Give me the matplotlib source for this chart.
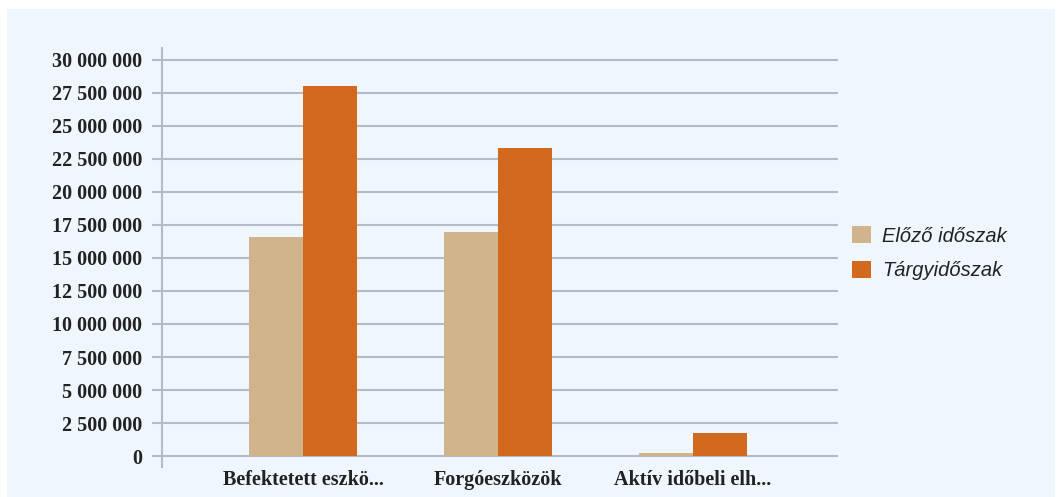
import matplotlib
matplotlib.use('Agg')
import matplotlib.pyplot as plt
from matplotlib.patches import Rectangle
from matplotlib.ticker import FuncFormatter
import numpy as np

categories = ['Befektetett eszkö...', 'Forgóeszközök', 'Aktív időbeli elh...']
elozo = [16.6e6, 17.0e6, 0.25e6]
targy = [28.0e6, 23.3e6, 1.76e6]
series_names = ['Előző időszak', 'Tárgyidőszak']
yticks = np.arange(0, 30000001, 2500000)

W, H = 1060, 497
fig = plt.figure(figsize=(W / 100, H / 100), dpi=100)
fig.patch.set_facecolor('white')
# light blue panel behind everything
fig.patches.append(Rectangle((7 / W, 0), (1055 - 7) / W, (H - 9) / H,
                             transform=fig.transFigure, facecolor='#eff6fd',
                             edgecolor='none', zorder=-10))

ax = fig.add_axes([162 / W, 30 / H, (838 - 162) / W, (467 - 48) / H])
ax.set_facecolor('none')

x = np.arange(len(categories))
bw = 0.275
ax.bar(x - bw / 2, elozo, bw, color='#d2b48c', label=series_names[0], zorder=3)
ax.bar(x + bw / 2, targy, bw, color='#d2691e', label=series_names[1], zorder=3)

ax.set_xlim(-0.723, 2.744)
ax.set_ylim(-0.83e6, 30.9e6)
ax.set_yticks(yticks)
ax.yaxis.set_major_formatter(FuncFormatter(lambda v, p: f'{int(v):,}'.replace(',', ' ')))
ax.set_xticks(x)
ax.set_xticklabels(categories)

grid_col = '#b4bbc3'
ax.grid(axis='y', color=grid_col, linewidth=1.5, zorder=1)
for s in ['top', 'right', 'bottom']:
    ax.spines[s].set_visible(False)
ax.spines['left'].set_color(grid_col)
ax.spines['left'].set_linewidth(1.5)
ax.tick_params(axis='y', length=7.2, width=1.5, color=grid_col, pad=7)
ax.tick_params(axis='x', length=0, pad=2)

for lab in ax.get_yticklabels() + ax.get_xticklabels():
    lab.set_fontfamily('Liberation Serif')
    lab.set_fontweight('bold')
    lab.set_fontsize(14.5)
    lab.set_color('#222222')

leg = ax.legend(loc='upper left', frameon=False,
                prop={'family': 'Liberation Sans', 'style': 'italic', 'size': 14.5},
                handlelength=0.95, handleheight=0.95, handletextpad=0.55,
                labelspacing=0.75, borderaxespad=0, borderpad=0)
leg.set_bbox_to_anchor((852 / W, 1 - 226 / H), transform=fig.transFigure)
for t in leg.get_texts():
    t.set_color('#222222')

fig.savefig('out.png', dpi=100, facecolor=fig.get_facecolor())
